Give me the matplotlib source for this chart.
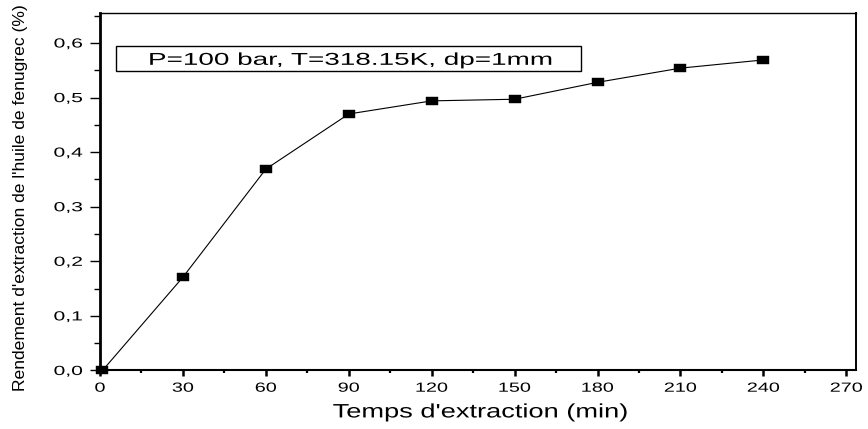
import matplotlib
matplotlib.use('Agg')
import matplotlib.pyplot as plt
from matplotlib.ticker import MultipleLocator, FuncFormatter
from matplotlib.patches import Rectangle
from matplotlib.patheffects import AbstractPathEffect
from matplotlib.transforms import Affine2D

temps = [0.9, 30, 60, 90, 120, 150, 180, 210, 240]
rendement = [0.0, 0.171, 0.369, 0.470, 0.494, 0.497, 0.528, 0.554, 0.569]
x_ticks = [0, 30, 60, 90, 120, 150, 180, 210, 240, 270]
annotation = "P=100 bar, T=318.15K, dp=1mm"

plt.rcParams['font.family'] = ['Liberation Sans', 'DejaVu Sans']


class StretchX(AbstractPathEffect):
    # the reference picture is stretched sideways, so widen the glyphs
    def __init__(self, sx, anchor='center'):
        super().__init__()
        self.sx = sx
        self.anchor = anchor

    def draw_path(self, renderer, gc, tpath, affine, rgbFace=None):
        ext = tpath.get_extents(affine)
        if self.anchor == 'right':
            cx = ext.x1
        elif self.anchor == 'left':
            cx = ext.x0
        else:
            cx = (ext.x0 + ext.x1) / 2
        t = affine + Affine2D().translate(-cx, 0).scale(self.sx, 1).translate(cx, 0)
        renderer.draw_path(gc, tpath, t, rgbFace)


fig = plt.figure(figsize=(8.68, 4.29), dpi=100)
ax = fig.add_axes([0.1152, 0.1364, 0.8710, 0.8333])

rect = [(-1.57, -1), (1.57, -1), (1.57, 1), (-1.57, 1), (-1.57, -1)]
ax.plot(temps, rendement, color='black', linewidth=0.8,
        marker=rect, markersize=8, markerfacecolor='black',
        markeredgecolor='black', markeredgewidth=0.3, clip_on=False, zorder=3)

ax.set_xlim(0, 273.5)
ax.set_ylim(0, 0.655)
ax.set_xticks(x_ticks)
ax.xaxis.set_minor_locator(MultipleLocator(15))
ax.yaxis.set_major_locator(MultipleLocator(0.1))
ax.yaxis.set_minor_locator(MultipleLocator(0.05))
ax.yaxis.set_major_formatter(FuncFormatter(lambda v, p: f'{v:.1f}'.replace('.', ',')))

ax.tick_params(which='both', direction='out', top=False, right=False, labelsize=9.5)
ax.tick_params(axis='x', which='major', length=4.3, width=1.8, pad=4.5)
ax.tick_params(axis='x', which='minor', length=2.2, width=1.6)
ax.tick_params(axis='y', which='major', length=7.5, width=1.0, pad=5)
ax.tick_params(axis='y', which='minor', length=4.0, width=1.0)
ax.spines['left'].set_linewidth(2.0)
ax.spines['bottom'].set_linewidth(1.5)
ax.spines['right'].set_linewidth(1.4)
ax.spines['top'].set_linewidth(1.0)

for lbl in ax.get_xticklabels():
    lbl.set_path_effects([StretchX(1.5, 'center')])
for lbl in ax.get_yticklabels():
    lbl.set_path_effects([StretchX(1.6, 'right')])

xl = ax.set_xlabel("Temps d'extraction (min)", fontsize=14)
xl.set_path_effects([StretchX(1.4, 'center')])
ax.xaxis.set_label_coords(0.504, -0.095)
ax.set_ylabel("Rendement d'extraction de l'huile de fenugrec (%)", fontsize=12.6)
ax.yaxis.set_label_coords(-0.0955, 0.483)

ax.add_patch(Rectangle((0.0212, 0.837), 0.6154, 0.070, transform=ax.transAxes,
                       facecolor='white', edgecolor='black', linewidth=1.0, zorder=4))
t = ax.text(0.332, 0.855, annotation, transform=ax.transAxes, fontsize=12.4,
            ha='center', va='baseline', zorder=5)
t.set_path_effects([StretchX(1.62, 'center')])

fig.savefig('out.png', dpi=100)
